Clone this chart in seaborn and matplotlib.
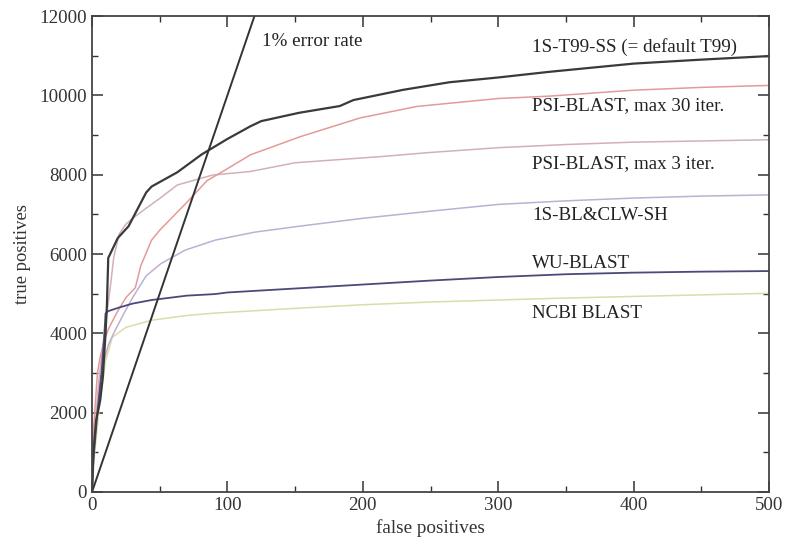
import matplotlib
matplotlib.use("Agg")
import matplotlib.pyplot as plt
import seaborn as sns
import pandas as pd
from matplotlib.ticker import MultipleLocator

# ---- data ----
t99_fp = [0, 1, 3, 6, 8, 10, 11, 12, 19, 27, 40, 44, 63, 81, 100, 117, 125, 153, 183, 193, 210, 230, 264, 300, 337, 400, 450, 500]
t99_tp = [0, 1000, 1800, 2300, 2900, 4000, 4700, 5900, 6400, 6700, 7550, 7700, 8060, 8510, 8900, 9220, 9350, 9560, 9730, 9880, 10000, 10140, 10330, 10450, 10590, 10800, 10900, 10990]

psi30_fp = [0, 1, 2, 3, 4, 6, 9, 12, 18, 25, 32, 36, 44, 50, 60, 70, 85, 100, 117, 154, 198, 240, 300, 338, 400, 450, 500]
psi30_tp = [0, 1500, 2000, 2500, 3000, 3400, 3800, 4100, 4500, 4900, 5150, 5700, 6350, 6600, 6950, 7300, 7850, 8150, 8500, 8960, 9430, 9720, 9920, 9980, 10130, 10200, 10250]

psi3_fp = [0, 2, 5, 8, 11, 14, 16, 20, 25, 30, 41, 50, 63, 89, 117, 150, 215, 250, 300, 350, 400, 450, 500]
psi3_tp = [0, 1500, 2800, 3700, 4500, 5300, 5900, 6500, 6750, 6900, 7180, 7400, 7740, 7990, 8080, 8300, 8460, 8560, 8680, 8760, 8820, 8850, 8880]

clw_fp = [0, 2, 5, 8, 12, 16, 22, 30, 40, 51, 69, 91, 120, 153, 200, 250, 300, 350, 400, 450, 500]
clw_tp = [0, 1500, 2500, 3200, 3700, 4000, 4400, 4900, 5450, 5760, 6100, 6350, 6550, 6700, 6900, 7080, 7250, 7340, 7410, 7460, 7490]

wu_fp = [0, 1, 4, 7, 9, 10, 12, 20, 30, 44, 70, 91, 100, 150, 200, 250, 300, 350, 400, 450, 500]
wu_tp = [0, 800, 2000, 3000, 3900, 4500, 4560, 4650, 4750, 4840, 4950, 4990, 5030, 5130, 5230, 5330, 5420, 5490, 5530, 5555, 5570]

ncbi_fp = [0, 2, 5, 10, 15, 25, 44, 70, 91, 150, 200, 250, 300, 350, 400, 450, 500]
ncbi_tp = [0, 1000, 2000, 3300, 3900, 4150, 4330, 4450, 4510, 4630, 4720, 4790, 4840, 4890, 4930, 4970, 5010]

err_fp = [0, 120]
err_tp = [0, 12000]

series_names = ["1S-T99-SS (= default T99)", "PSI-BLAST, max 30 iter.", "PSI-BLAST, max 3 iter.",
                "1S-BL&CLW-SH", "WU-BLAST", "NCBI BLAST"]
label_fp = [325, 325, 325, 325, 325, 325]
label_tp = [11220, 9730, 8290, 6960, 5770, 4510]
err_label = "1% error rate"
err_label_fp = 125.5
err_label_tp = 11350

x_ticks = [0, 100, 200, 300, 400, 500]
y_ticks = [0, 2000, 4000, 6000, 8000, 10000, 12000]

colors = ["#3a3a3a", "#e49a9a", "#d3b0b8", "#bdb0d4", "#4a4a7a", "#dcdcaa"]
widths = [1.6, 1.1, 1.1, 1.1, 1.3, 1.1]

all_fp = [t99_fp, psi30_fp, psi3_fp, clw_fp, wu_fp, ncbi_fp]
all_tp = [t99_tp, psi30_tp, psi3_tp, clw_tp, wu_tp, ncbi_tp]

sns.set_style("white")
plt.rcParams["font.family"] = ["Liberation Serif", "DejaVu Serif"]

fig = plt.figure(figsize=(7.89, 5.39), dpi=100)
ax = fig.add_axes([92 / 789, 1 - 492 / 539, (769 - 92) / 789, (492 - 16) / 539])

# draw lowest first so dark curves are on top
order = [5, 3, 2, 1, 4, 0]
for i in order:
    df = pd.DataFrame({"fp": all_fp[i], "tp": all_tp[i]})
    sns.lineplot(data=df, x="fp", y="tp", ax=ax, color=colors[i], linewidth=widths[i],
                 sort=False, estimator=None)

dfe = pd.DataFrame({"fp": err_fp, "tp": err_tp})
sns.lineplot(data=dfe, x="fp", y="tp", ax=ax, color="#333333", linewidth=1.4, sort=False, estimator=None)

for name, lx, ly in zip(series_names, label_fp, label_tp):
    ax.text(lx, ly, name, fontsize=13.7, color="#222222", va="center", ha="left")
ax.text(err_label_fp, err_label_tp, err_label, fontsize=13.7, color="#222222", va="center", ha="left")

ax.set_xlim(0, 500)
ax.set_ylim(0, 12000)
ax.set_xticks(x_ticks)
ax.set_yticks(y_ticks)
ax.xaxis.set_minor_locator(MultipleLocator(50))
ax.yaxis.set_minor_locator(MultipleLocator(1000))
ax.tick_params(which="both", direction="in", top=True, right=True, bottom=True, left=True,
               labelsize=13.6, colors="#333333")
ax.tick_params(which="major", length=8, width=1.1)
ax.tick_params(which="minor", length=4, width=1.0)
for s in ax.spines.values():
    s.set_color("#444444")
    s.set_linewidth(1.3)

ax.set_xlabel("false positives", fontsize=13.8, color="#333333", labelpad=4)
ax.set_ylabel("true positives", fontsize=13.4, color="#333333", labelpad=6)

fig.savefig("out.png", dpi=100)
